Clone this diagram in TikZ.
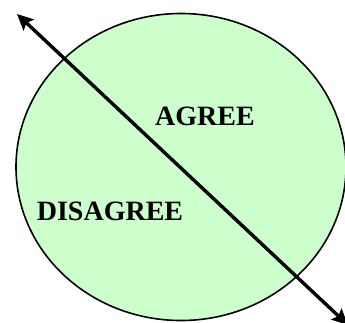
\documentclass[tikz,border=0pt]{standalone}
\usepackage{fontspec}
\setmainfont{Liberation Serif}
\usetikzlibrary{shapes.geometric,arrows.meta}
\definecolor{palegreen}{HTML}{CCFFCC}
\begin{document}
\begin{tikzpicture}[x=1pt,y=-1pt]
        \useasboundingbox (0,0) rectangle (345,322);
        % Circle
        \node[draw, ellipse, fill=palegreen, line width=1.6pt, inner sep=0pt, minimum width=330pt, minimum height=307pt] (circ) at (181,167) {};
        
        % Labels
        \node[font=\bfseries\fontsize{28}{30}\selectfont, inner sep=0pt] (agree) at (205,116) {AGREE};
        \node[font=\bfseries\fontsize{28}{30}\selectfont, inner sep=0pt] (disagree) at (110,211) {DISAGREE};
        
        % Arrow
        \coordinate (tl) at (17,14);
        \coordinate (br) at (348,325);
        \draw[{Stealth[length=16pt,width=15pt,inset=3pt]}-{Stealth[length=16pt,width=15pt,inset=3pt]}, line width=3.4pt] (tl) -- (br);
    \end{tikzpicture}
\end{document}
